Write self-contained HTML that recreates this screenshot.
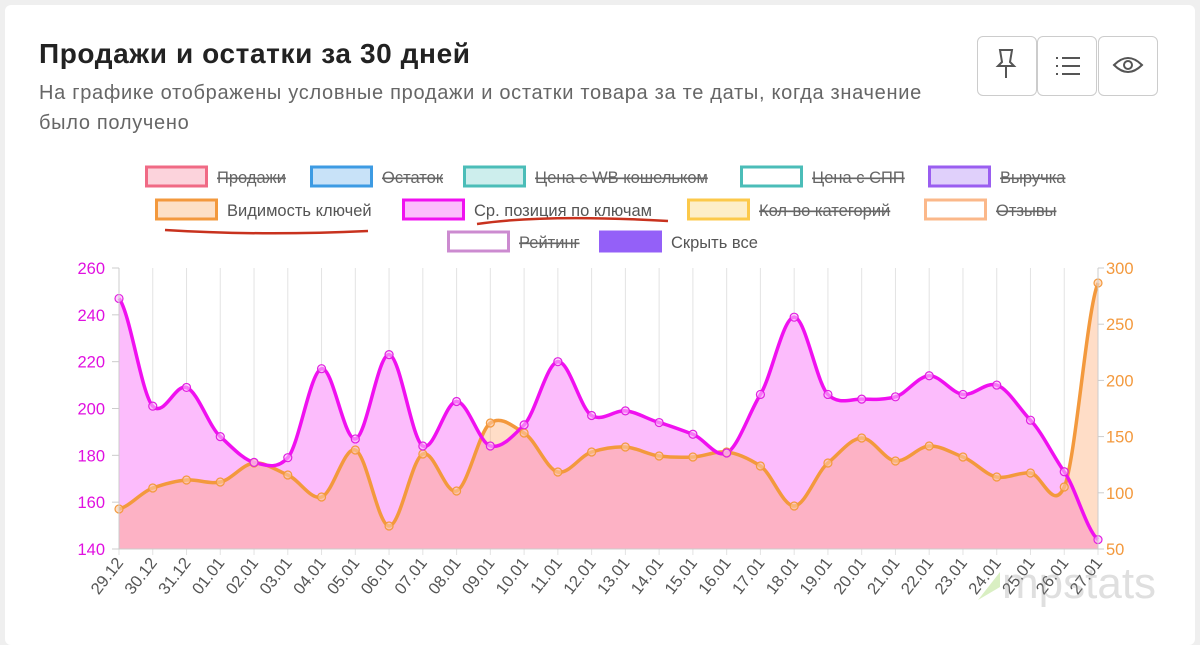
<!DOCTYPE html><html><head><meta charset="utf-8"><style>
body{margin:0;width:1200px;height:623px;background:#efefef;font-family:"Liberation Sans",sans-serif;overflow:hidden;position:relative}
.card{position:absolute;left:5px;top:5px;width:1190px;height:640px;background:#fff;border-radius:6px}
h1{position:absolute;left:39px;top:38px;margin:0;font-size:28px;font-weight:bold;color:#222;letter-spacing:0.6px}
.sub{position:absolute;left:39px;top:78px;width:920px;font-size:20px;line-height:30px;color:#666;letter-spacing:0.7px;white-space:nowrap}
.btn{position:absolute;top:36px;width:58px;height:58px;border:1px solid #ccc;border-radius:6px;background:#fff}
</style></head><body><div class="card"></div>
<h1>Продажи и остатки за 30 дней</h1>
<div class="sub">На графике отображены условные продажи и остатки товара за те даты, когда значение<br>было получено</div>
<div class="btn" style="left:977px"></div><div class="btn" style="left:1037px"></div><div class="btn" style="left:1098px"></div>
<svg width="1200" height="623" style="position:absolute;left:0;top:0" id="s" font-family="Liberation Sans,sans-serif">
<g stroke="#555" stroke-width="2" fill="none">
<path d="M1000 50h12l-2 12 4 4h-16l4-4zM1006 66v12"/>
<path d="M1056 58h2M1062 58h18M1056 66h2M1062 66h18M1056 74h2M1062 74h18"/>
<path d="M1114 65q14-14 28 0q-14 14-28 0z"/><circle cx="1128" cy="65" r="4"/>
</g></svg>
<script>
const s=document.getElementById('s'),NS='http://www.w3.org/2000/svg';
function el(t,a,txt){const e=document.createElementNS(NS,t);for(const k in a)e.setAttribute(k,a[k]);if(txt!=null)e.textContent=txt;s.appendChild(e);return e}
const L=[[145,177,'#f06a85','#fcd3dc','Продажи',1],[310,177,'#3d9be3','#c8e2f8','Остаток',1],[463,177,'#4bbdb8','#cdeeed','Цена с WB кошельком',1],[740,177,'#4bbdb8','#fff','Цена с СПП',1],[928,177,'#9a5ef0','#e0d0fb','Выручка',1],
[155,210,'#f3993d','#fde0c6','Видимость ключей',0],[402,210,'#f010f0','#fcbcfc','Ср. позиция по ключам',0],[687,210,'#fcc94a','#fdeec8','Кол-во категорий',1],[924,210,'#fbb88a','#fff','Отзывы',1],
[447,242,'#cc8bd0','#fff','Рейтинг',1],[599,242,'#9460f8','#9460f8','Скрыть все',0]];
L.forEach(([x,y,c,f,t,st])=>{el('rect',{x:x+1.5,y:y-10,width:60,height:19,fill:f,stroke:c,'stroke-width':3});
const tx=el('text',{x:x+72,y:y+6,'font-size':16.5,fill:st?'#666':'#555'},t);if(st)tx.setAttribute('text-decoration','line-through')});
el('path',{d:'M165 230Q260 236 368 231',stroke:'#c8321e','stroke-width':2.5,fill:'none'});
el('path',{d:'M477 224Q545 214 668 221',stroke:'#c8321e','stroke-width':2.5,fill:'none'});
const X0=119,X1=1098,st=(X1-X0)/29,T=268,B=549;
for(let i=0;i<30;i++){const x=X0+i*st;el('line',{x1:x,y1:T,x2:x,y2:B+6,stroke:'#e3e3e3'})}
const mag=[247,201,209,188,177,179,217,187,223,184,203,184,193,220,197,199,194,189,181,206,239,206,204,205,214,206,210,195,173,144].map(v=>B-(v-140)*(B-T)/120);
const ora=[509,488,480,482,463,475,497,450,526,454,491,423,433,472,452,447,456,457,452,466,506,463,438,461,446,457,477,473,487,283];
function curve(ys){let d='M'+X0+' '+ys[0];for(let i=0;i<ys.length-1;i++){const p0=ys[Math.max(i-1,0)],p1=ys[i],p2=ys[i+1],p3=ys[Math.min(i+2,ys.length-1)];const x1=X0+i*st,x2=x1+st;d+=`C${x1+st/3} ${p1+(p2-p0)/6*0.8} ${x2-st/3} ${p2-(p3-p1)/6*0.8} ${x2} ${p2}`}return d}
const cm=curve(mag),co=curve(ora),close=`L${X1} ${B}L${X0} ${B}Z`;
el('path',{d:cm+close,fill:'#fcbcfc'});el('path',{d:co+close,fill:'rgba(255,160,100,0.36)'});
el('path',{d:co,fill:'none',stroke:'#f3993d','stroke-width':3.5});
el('path',{d:cm,fill:'none',stroke:'#f010f0','stroke-width':3.5});
ora.forEach((y,i)=>el('circle',{cx:X0+i*st,cy:y,r:4,fill:'rgba(253,200,160,0.6)',stroke:'#f3993d','stroke-width':1.2}));
mag.forEach((y,i)=>el('circle',{cx:X0+i*st,cy:y,r:4,fill:'rgba(252,188,252,0.6)',stroke:'#e020e0','stroke-width':1.2}));
el('line',{x1:X0,y1:T,x2:X0,y2:B,stroke:'#ccc'});el('line',{x1:X1,y1:T,x2:X1,y2:B,stroke:'#ccc'});el('line',{x1:X0,y1:B,x2:X1,y2:B,stroke:'#ccc'});
[260,240,220,200,180,160,140].forEach((v,i)=>{const y=T+i*(B-T)/6;el('text',{x:105,y:y+6,'font-size':16.5,fill:'#e010e0','text-anchor':'end'},v);el('line',{x1:X0-7,y1:y,x2:X0,y2:y,stroke:'#ccc'})});
[300,250,200,150,100,50].forEach((v,i)=>{const y=T+i*(B-T)/5;el('text',{x:1106,y:y+6,'font-size':16.5,fill:'#f3993d'},v);el('line',{x1:X1,y1:y,x2:X1+6,y2:y,stroke:'#ccc'})});
const d=['29.12','30.12','31.12'];for(let i=1;i<=27;i++)d.push(String(i).padStart(2,'0')+'.01');
d.forEach((t,i)=>{const x=X0+i*st+5;el('text',{x:x,y:B+14,'font-size':16.5,fill:'#555','text-anchor':'end',transform:`rotate(-52 ${x} ${B+14})`},t)});
el('path',{d:'M978 600L1000 572L1000 587Z',fill:'rgba(170,220,120,0.45)'});
el('text',{x:1002,y:598,'font-size':44,fill:'rgba(150,150,150,0.3)'},'mpstats');
</script></body></html>
